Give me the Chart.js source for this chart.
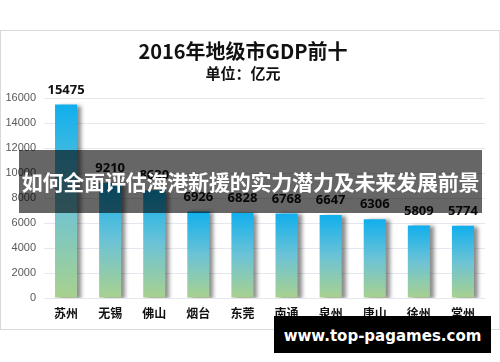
<!DOCTYPE html>
<html>
<head>
<meta charset="utf-8">
<script src="https://cdn.jsdelivr.net/npm/chart.js@4"></script>
<style>
  body { margin: 0; width: 500px; height: 362px; background: #fff; position: relative; overflow: hidden; }
  #box { position: absolute; left: 0; top: 30px; width: 498px; height: 298px; border: 1px solid #d9d9d9; border-right-color: #e3e3e3; }
  #banner { position: absolute; left: 19px; top: 150px; width: 463px; height: 63px; background: rgba(0,0,0,0.6);
    color: #fff; font: bold 21px "Noto Sans CJK SC", sans-serif; line-height: 63px; white-space: nowrap; text-align: center;
    letter-spacing: -0.2px; }
  #mark { position: absolute; left: 274px; top: 316px; width: 217px; height: 37px; background: #000;
    color: #fff; font: bold 15px "DejaVu Sans", sans-serif; line-height: 41px; text-align: center; white-space: nowrap; }
</style>
</head>
<body>
<div id="box"><canvas id="myChart" width="498" height="298"></canvas></div>
<div id="banner">如何全面评估海港新援的实力潜力及未来发展前景</div>
<div id="mark">www.top-pagames.com</div>
<script>
const cities = ['苏州', '无锡', '佛山', '烟台', '东莞', '南通', '泉州', '唐山', '徐州', '常州'];
const gdp = [15475, 9210, 8630, 6926, 6828, 6768, 6647, 6306, 5809, 5774];
const yTicks = [0, 2000, 4000, 6000, 8000, 10000, 12000, 14000, 16000];

// 柱子渐变：顶部蓝色，底部绿色
function barGradient(context) {
    const chart = context.chart;
    if (!chart.chartArea || context.raw === undefined) return '#1ab0ea';
    const y = chart.scales.y;
    const top = y.getPixelForValue(context.raw);
    const bottom = y.getPixelForValue(0);
    const g = chart.ctx.createLinearGradient(0, top, 0, bottom);
    g.addColorStop(0, '#10afed');
    g.addColorStop(0.5, '#6cc3d6');
    g.addColorStop(1, '#a9d18e');
    return g;
}

const shadowPlugin = {
    id: 'shadow',
    beforeDatasetsDraw(chart) {
        const ctx = chart.ctx;
        ctx.save();
        ctx.shadowColor = 'rgba(0,0,0,0.45)';
        ctx.shadowOffsetX = 4;
        ctx.shadowOffsetY = 1;
        ctx.shadowBlur = 4;
    },
    afterDatasetsDraw(chart) {
        chart.ctx.restore();
        // 数据标签
        const ctx = chart.ctx;
        const meta = chart.getDatasetMeta(0);
        ctx.save();
        ctx.font = 'bold 13px "Noto Sans", sans-serif';
        ctx.fillStyle = '#111';
        ctx.textAlign = 'center';
        ctx.textBaseline = 'bottom';
        meta.data.forEach((bar, i) => {
            ctx.fillText(String(gdp[i]), bar.x, bar.y - 8);
        });
        ctx.restore();
    }
};

const ctx = document.getElementById('myChart').getContext('2d');
const myChart = new Chart(ctx, {
    type: 'bar',
    data: {
        labels: cities,
        datasets: [{
            data: gdp,
            backgroundColor: barGradient,
            borderWidth: 0,
            categoryPercentage: 1,
            barPercentage: 0.5
        }]
    },
    options: {
        responsive: false,
        animation: false,
        layout: { padding: { left: 0, right: 14, bottom: 0, top: 0 } },
        plugins: {
            legend: { display: false },
            tooltip: { enabled: false },
            title: {
                display: true,
                text: '2016年地级市GDP前十',
                color: '#111',
                font: { family: '"Noto Sans CJK SC"', size: 20, weight: 'bold', lineHeight: 1.2 },
                padding: { top: 8, bottom: 0 }
            },
            subtitle: {
                display: true,
                text: '单位：亿元',
                color: '#111',
                font: { family: '"Noto Sans CJK SC"', size: 15, weight: 'bold', lineHeight: 1.2 },
                padding: { top: 1, bottom: 16 }
            }
        },
        scales: {
            x: {
                grid: { display: false },
                border: { display: false },
                ticks: { color: '#111', padding: 0, font: { family: '"Noto Sans CJK SC"', size: 12, weight: 'bold' } },
                afterFit(scale) { scale.height = 31; }
            },
            y: {
                min: 0,
                max: 16000,
                afterBuildTicks(scale) { scale.ticks = yTicks.map(v => ({ value: v })); },
                grid: { color: '#e6e6ee', drawTicks: false },
                border: { display: false },
                ticks: {
                    color: '#595959', padding: 8, font: { family: '"Liberation Sans"', size: 11 },
                    callback: v => String(v)
                },
                afterFit(scale) { scale.width = 43; }
            }
        }
    },
    plugins: [shadowPlugin]
});
</script>
</body>
</html>
